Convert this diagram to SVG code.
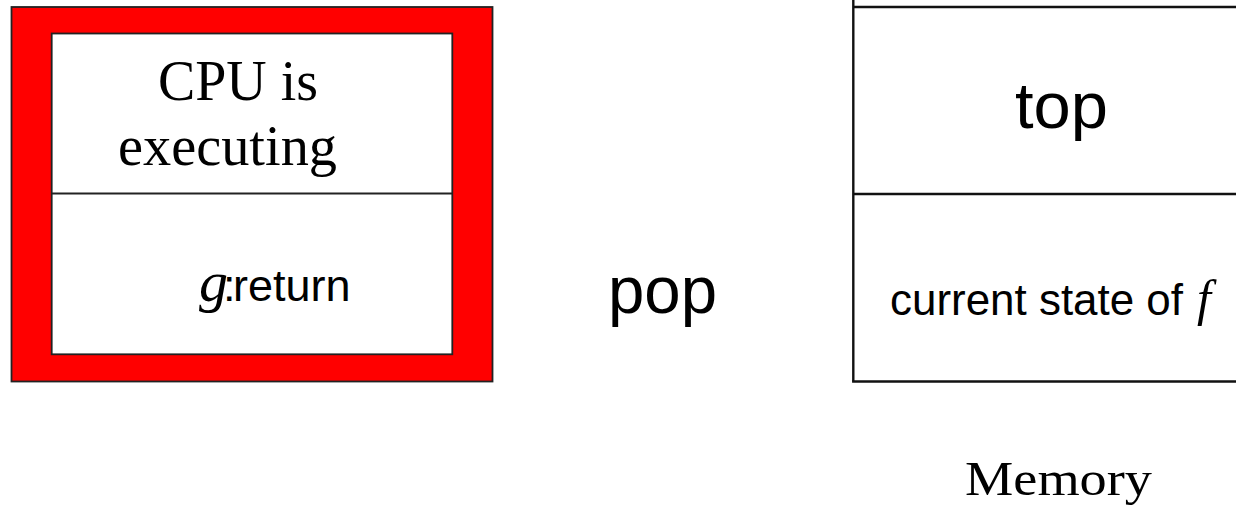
<svg xmlns="http://www.w3.org/2000/svg" width="1236" height="513" viewBox="0 0 1236 513">
<style>
.sans{font-family:"Liberation Sans",Arial,sans-serif;fill:#000}
.serif{font-family:"Liberation Serif","Times New Roman",serif;fill:#000}
.it{font-style:italic}
.line{stroke:#111;stroke-width:2.4;fill:none}
</style>
<rect width="1236" height="513" fill="#fff"/>
<g id="cpu">
<rect x="11.5" y="7" width="481" height="374.5" fill="#ff0000" stroke="#222" stroke-width="1.8"/>
<rect x="51.7" y="33.5" width="400.6" height="320.8" fill="#fff" stroke="#222" stroke-width="1.8"/>
<line x1="51.7" y1="193.5" x2="452.3" y2="193.5" stroke="#222" stroke-width="1.8"/>
<text class="serif" x="158" y="100" font-size="56" textLength="160" lengthAdjust="spacingAndGlyphs">CPU is</text>
<text class="serif" x="118" y="165" font-size="56" textLength="219" lengthAdjust="spacingAndGlyphs">executing</text>
<text class="sans" y="301" font-size="45"><tspan x="199" class="serif it" font-size="58">g</tspan><tspan x="223">:</tspan><tspan x="233">return</tspan></text>
</g>
<g id="pop">
<text class="sans" x="608" y="313" font-size="66" textLength="109" lengthAdjust="spacingAndGlyphs">pop</text>
</g>
<g id="memory">
<line class="line" x1="853.3" y1="0" x2="853.3" y2="381.5"/>
<line class="line" x1="853.3" y1="7" x2="1236" y2="7"/>
<line class="line" x1="853.3" y1="194" x2="1236" y2="194"/>
<line class="line" x1="852.1" y1="381.5" x2="1236" y2="381.5"/>
<text class="sans" x="1015" y="128" font-size="64" textLength="93" lengthAdjust="spacingAndGlyphs">top</text>
<text class="sans" x="890" y="315" font-size="45" textLength="293" lengthAdjust="spacingAndGlyphs">current state of</text>
<text class="serif it" x="1197" y="315" font-size="50">f</text>
<text class="serif" x="965" y="495" font-size="48" textLength="187" lengthAdjust="spacingAndGlyphs">Memory</text>
</g>
<g id="connectors"></g>
</svg>
